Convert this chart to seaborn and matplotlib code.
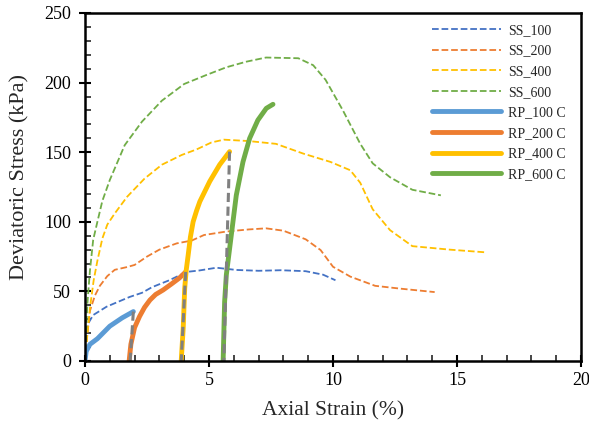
import numpy as np
import pandas as pd
import matplotlib
matplotlib.use("Agg")
import matplotlib.pyplot as plt
import seaborn as sns
from matplotlib.ticker import MultipleLocator

# --- datos (deformacion %, esfuerzo kPa) ---
ss100_x = [0, 0.05, 0.13, 0.33, 0.87, 1.4, 1.8, 2.3, 2.7, 3.4, 4.1, 4.6, 5.3, 6.1, 7.0,
           7.9, 8.9, 9.6, 10.1]
ss100_y = [0, 15, 27, 33, 39, 43, 46, 49, 53, 58, 64, 65, 67, 65.4, 64.8,
           65.2, 64.5, 62, 58]

ss200_x = [0, 0.05, 0.2, 0.4, 0.6, 0.9, 1.2, 1.7, 2.0, 2.5, 3.0, 3.7, 4.3, 4.8, 5.7, 6.6,
           7.3, 8.0, 8.9, 9.5, 10.0, 10.7, 11.7, 12.7, 14.1]
ss200_y = [0, 12, 36, 47, 54, 61, 65.5, 67.5, 69, 75, 80, 84.5, 86.5, 90.5, 93, 94.5,
           95.3, 93.6, 87.4, 79.7, 67.7, 60.6, 54, 52, 49.5]

ss400_x = [0, 0.1, 0.2, 0.35, 0.5, 0.7, 0.9, 1.2, 1.7, 2.4, 3.1, 3.9, 4.5, 5.1, 5.6, 6.6,
           7.7, 8.8, 9.9, 10.7, 11.1, 11.6, 12.3, 13.2, 14.7, 16.2]
ss400_y = [0, 20, 38, 58, 72, 88, 98, 106, 118, 131, 141, 148, 152, 157, 159, 158,
           156, 149, 143, 137, 128, 109, 94, 82.5, 80, 78]

ss600_x = [0, 0.05, 0.1, 0.2, 0.33, 0.5, 0.7, 1.0, 1.6, 2.3, 3.1, 4.0, 4.9, 5.7, 6.5, 7.3,
           8.6, 9.2, 9.7, 10.4, 11.1, 11.6, 12.3, 13.2, 14.35]
ss600_y = [0, 22, 42, 65, 87, 100, 115, 130, 155, 172, 187, 199, 205.5, 211, 215, 218,
           217.5, 212.5, 202, 180, 156, 142, 132, 123, 119]

rp100_x = [0, 0.05, 0.2, 0.5, 1.0, 1.5, 1.95]
rp100_y = [0, 7, 12, 16, 25, 31, 35.5]

rp200_x = [1.78, 1.85, 2.0, 2.2, 2.4, 2.62, 2.85, 3.15, 3.5, 3.8, 4.06]
rp200_y = [0, 12, 24, 32, 38.5, 43.8, 47.8, 51, 55.5, 59.5, 64]

rp400_x = [3.88, 3.96, 4.02, 4.08, 4.16, 4.25, 4.36, 4.5, 4.63, 5.03, 5.43, 5.83]
rp400_y = [0, 23.5, 52, 65, 76, 89, 100, 108, 114.5, 129, 141, 150.4]

rp600_x = [5.57, 5.63, 5.7, 5.9, 6.1, 6.37, 6.64, 6.97, 7.31, 7.58]
rp600_y = [0, 42.6, 62, 90.5, 119, 143, 160, 173, 181.5, 184.4]

# tramos grises de descarga (fin de cada RP hasta el inicio del siguiente)
descarga = [([1.95, 1.82], [35.5, 0]),
            ([4.06, 3.88], [64, 0]),
            ([5.83, 5.6], [150.4, 0])]

sns.set_style("ticks")
plt.rcParams['font.family'] = ['Liberation Serif', 'DejaVu Serif']

fig, ax = plt.subplots(figsize=(5.89, 4.23), dpi=100)
fig.subplots_adjust(left=0.1443, right=0.9864, top=0.9693, bottom=0.1466)

series = [
    ("SS_100", ss100_x, ss100_y, "#4472C4", "--", 1.3),
    ("SS_200", ss200_x, ss200_y, "#ED7D31", "--", 1.3),
    ("SS_400", ss400_x, ss400_y, "#FFC000", "--", 1.3),
    ("SS_600", ss600_x, ss600_y, "#70AD47", "--", 1.3),
    ("RP_100 C", rp100_x, rp100_y, "#5B9BD5", "-", 3.5),
    ("RP_200 C", rp200_x, rp200_y, "#ED7D31", "-", 3.5),
    ("RP_400 C", rp400_x, rp400_y, "#FFC000", "-", 3.5),
    ("RP_600 C", rp600_x, rp600_y, "#70AD47", "-", 3.5),
]

for nombre, xs, ys, color, estilo, lw in series:
    df = pd.DataFrame({"x": xs, "y": ys})
    sns.lineplot(data=df, x="x", y="y", sort=False, estimator=None, ax=ax,
                 color=color, linestyle=estilo, linewidth=lw, label=nombre,
                 solid_capstyle="round", solid_joinstyle="round")

for xs, ys in descarga:
    df = pd.DataFrame({"x": xs, "y": ys})
    sns.lineplot(data=df, x="x", y="y", sort=False, estimator=None, ax=ax,
                 color="#808080", linestyle=(0, (3, 1.5)), linewidth=2.2)

ax.set_xlim(0, 20)
ax.set_ylim(0, 250)
ax.xaxis.set_major_locator(MultipleLocator(5))
ax.xaxis.set_minor_locator(MultipleLocator(1))
ax.yaxis.set_major_locator(MultipleLocator(50))
ax.yaxis.set_minor_locator(MultipleLocator(10))
ax.tick_params(which="major", direction="inout", length=8, width=1.5, labelsize=13,
               colors="black")
ax.tick_params(axis="x", which="major", pad=4)
ax.tick_params(axis="y", which="major", pad=6)
ax.tick_params(which="minor", direction="in", length=4, width=1.2)
for s in ax.spines.values():
    s.set_linewidth(1.8)
    s.set_color("black")

ax.set_xlabel("Axial Strain (%)", fontsize=15.5, labelpad=9)
ax.set_ylabel("Deviatoric Stress (kPa)", fontsize=16)
ax.yaxis.set_label_coords(-0.111, 0.53)

ax.legend(loc="upper right", bbox_to_anchor=(0.995, 1.005), frameon=False, fontsize=10,
          handlelength=5, labelspacing=0.55, handletextpad=0.5)

fig.savefig("out.png", dpi=100)
